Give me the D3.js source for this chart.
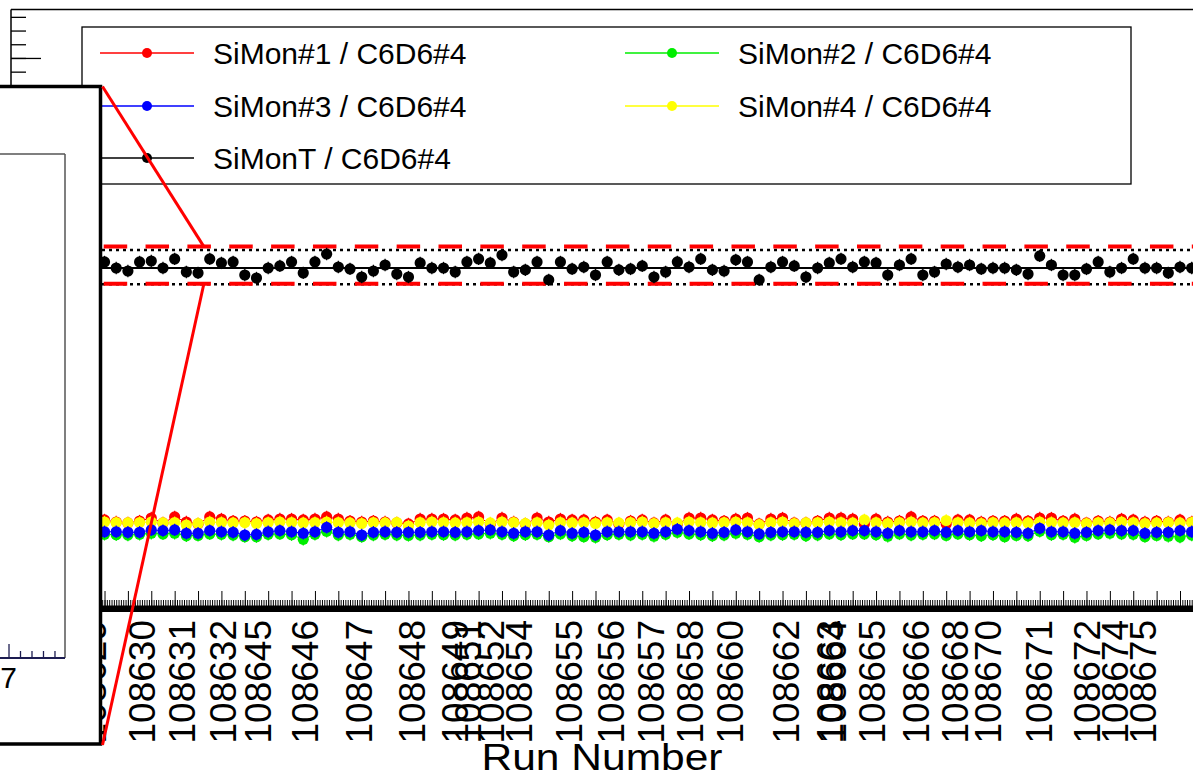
<!DOCTYPE html>
<html><head><meta charset="utf-8">
<script src="https://cdn.jsdelivr.net/npm/d3@7"></script>
<style>
body{margin:0;background:#fff}
svg{display:block}
text{font-family:"Liberation Sans",Arial,Helvetica,sans-serif}
</style>
</head><body>
<svg id="c" width="1193" height="778"></svg>
<script>
// ---------------- data ----------------
const pointIndex = d3.range(102); // bin index along run axis

const siMonT = [2.489,2.453,2.511,2.467,2.423,2.504,2.474,2.526,
 2.511,2.467,2.445,2.511,2.518,2.467,2.533,2.438,2.431,2.533,2.504,2.511,2.416,2.394,2.467,2.482,2.511,2.431,2.511,2.569,2.474,2.460,2.401,2.445,2.489,2.423,2.401,2.504,2.467,2.467,2.438,2.511,2.533,
 2.504,2.562,2.438,2.453,2.511,2.380,2.511,2.460,2.474,2.416,2.511,2.453,2.460,2.482,2.401,2.438,2.511,2.474,2.533,2.453,2.445,2.526,2.511,2.380,2.474,2.511,2.482,2.401,
 2.467,2.504,2.533,2.474,2.511,2.504,2.416,2.489,2.533,2.416,2.438,2.496,2.474,2.489,2.460,2.467,2.467,2.453,2.423,2.555,2.489,2.416,2.416,2.460,2.511,2.438,2.467,2.533,2.467,2.467,2.431,2.474,2.467];

const siMon1 = [0.628,0.620,0.635,0.613,0.628,0.642,0.620,0.628,
 0.628,0.613,0.606,0.620,0.642,0.606,0.650,0.613,0.599,0.650,0.635,0.620,0.620,0.613,0.628,0.635,0.635,0.628,0.635,0.650,0.635,0.620,0.613,0.620,0.613,0.606,0.599,0.635,0.635,0.635,0.628,0.642,0.650,
 0.599,0.642,0.613,0.599,0.642,0.613,0.635,0.628,0.628,0.613,0.628,0.599,0.620,0.628,0.606,0.628,0.599,0.642,0.642,0.628,0.620,0.635,0.642,0.599,0.635,0.642,0.606,0.606,
 0.620,0.642,0.642,0.635,0.599,0.635,0.613,0.620,0.650,0.620,0.620,0.599,0.628,0.628,0.613,0.620,0.620,0.635,0.620,0.642,0.642,0.620,0.635,0.606,0.620,0.613,0.635,0.628,0.613,0.620,0.613,0.628,0.613];

const siMon2 = [0.523,0.518,0.526,0.520,0.512,0.523,0.526,0.518,
 0.523,0.520,0.518,0.523,0.531,0.526,0.531,0.512,0.515,0.526,0.523,0.518,0.506,0.506,0.523,0.526,0.520,0.487,0.523,0.545,0.518,0.523,0.506,0.518,0.523,0.518,0.515,0.518,0.523,0.520,0.518,0.523,0.526,
 0.531,0.523,0.512,0.520,0.523,0.506,0.526,0.512,0.506,0.501,0.520,0.523,0.518,0.523,0.509,0.523,0.538,0.526,0.520,0.512,0.518,0.531,0.523,0.506,0.518,0.520,0.523,0.512,
 0.518,0.526,0.520,0.526,0.526,0.520,0.509,0.526,0.518,0.523,0.526,0.515,0.526,0.520,0.512,0.520,0.506,0.515,0.512,0.545,0.520,0.523,0.501,0.515,0.526,0.531,0.526,0.523,0.506,0.515,0.509,0.503,0.518];

const siMon3 = [0.542,0.550,0.538,0.545,0.531,0.542,0.550,0.538,
 0.542,0.542,0.538,0.538,0.555,0.550,0.555,0.531,0.531,0.550,0.542,0.538,0.518,0.523,0.542,0.550,0.542,0.531,0.542,0.574,0.538,0.542,0.518,0.538,0.542,0.538,0.538,0.538,0.542,0.542,0.538,0.542,0.550,
 0.555,0.542,0.531,0.542,0.542,0.518,0.550,0.531,0.538,0.518,0.542,0.542,0.542,0.542,0.531,0.542,0.560,0.550,0.542,0.531,0.538,0.555,0.542,0.526,0.538,0.542,0.542,0.538,
 0.538,0.550,0.542,0.550,0.550,0.542,0.531,0.550,0.542,0.542,0.550,0.538,0.550,0.542,0.550,0.542,0.542,0.538,0.531,0.567,0.542,0.542,0.531,0.538,0.550,0.555,0.550,0.550,0.531,0.538,0.538,0.550,0.542];

const siMon4 = [0.609,0.606,0.613,0.609,0.602,0.609,0.613,0.606,
 0.613,0.609,0.606,0.609,0.613,0.606,0.609,0.591,0.602,0.613,0.609,0.606,0.609,0.602,0.609,0.613,0.609,0.606,0.609,0.613,0.609,0.606,0.602,0.609,0.606,0.609,0.584,0.609,0.613,0.609,0.606,0.609,0.613,
 0.606,0.613,0.609,0.602,0.609,0.591,0.609,0.606,0.609,0.602,0.609,0.606,0.609,0.613,0.602,0.609,0.606,0.613,0.609,0.606,0.609,0.613,0.609,0.594,0.609,0.613,0.602,0.606,
 0.609,0.613,0.609,0.606,0.628,0.609,0.602,0.609,0.613,0.606,0.609,0.624,0.609,0.606,0.602,0.609,0.606,0.609,0.606,0.613,0.609,0.606,0.609,0.602,0.609,0.606,0.613,0.609,0.602,0.606,0.609,0.606,0.609];

const pointError = 0.045;

const meanT = 2.467;
const bandDotted = [2.599, 2.348];
const bandRed = [2.623, 2.352];

const runLabels = ["108629","108630","108631","108632","108645","108646","108647","108648","108649","108651","108652","108654","108655","108656","108657","108658","108660","108662","108663","108664","108665","108666","108668","108670","108671","108672","108674","108675"];
const runLabelPos = [7.01,11.21,14.63,18.14,21.13,25.15,29.77,34.30,37.98,39.09,41.00,43.45,47.73,51.33,54.75,58.08,61.51,66.30,70.06,70.25,73.65,77.42,80.75,83.58,87.94,92.04,94.44,96.80];

const xTitle = "Run Number";

const legendNames = ["SiMon#1 / C6D6#4","SiMon#2 / C6D6#4","SiMon#3 / C6D6#4","SiMon#4 / C6D6#4","SiMonT / C6D6#4"];
const legendColors = ["#ff0000","#00ee00","#0000ff","#ffff00","#000000"];

const insetTickMajor = [7];
const insetTickMinor = [7.2,7.4,7.6,7.8];
const zoomAt = 16.5;

// ---------------- scales ----------------
const svg = d3.select("#c");
const x = d3.scaleLinear().domain([0,102]).range([11, 11+102*11.69]);
const y = d3.scaleLinear().domain([0,4.35]).range([606,10]);

// frame
svg.append("line").attr("x1",11).attr("x2",1193).attr("y1",9.5).attr("y2",9.5).attr("stroke","#000").attr("stroke-width",1.5);
svg.append("line").attr("x1",11).attr("x2",11).attr("y1",9.5).attr("y2",606).attr("stroke","#000").attr("stroke-width",1.5);

// y ticks
const yMinor = d3.range(0,4.351,0.1).map(v=>+v.toFixed(2));
const yMajor = d3.range(0,4.351,0.5);
const gy1 = svg.append("g").attr("transform","translate(11,0)").call(d3.axisRight(y).tickValues(yMinor).tickSize(15).tickFormat(""));
const gy2 = svg.append("g").attr("transform","translate(11,0)").call(d3.axisRight(y).tickValues(yMajor).tickSize(30).tickFormat(""));
[gy1,gy2].forEach(g=>{g.select(".domain").remove(); g.selectAll("line").attr("stroke","#000").attr("stroke-width",1.3);});

// x ticks
const xMinor = d3.range(0,102.01,0.2);
const xMajor = d3.range(0,103,2);
const gx1 = svg.append("g").attr("transform","translate(0,606)").call(d3.axisTop(x).tickValues(xMinor).tickSize(6).tickFormat(""));
const gx2 = svg.append("g").attr("transform","translate(0,606)").call(d3.axisTop(x).tickValues(xMajor).tickSize(15).tickFormat(""));
[gx1,gx2].forEach(g=>{g.select(".domain").remove(); g.selectAll("line").attr("stroke","#000").attr("stroke-width",1);});
svg.append("rect").attr("x",11).attr("y",605.5).attr("width",1193).attr("height",6.5).attr("fill","#000");

// reference lines
const refs = svg.append("g");
bandDotted.forEach(v=>refs.append("line").attr("x1",x(0)).attr("x2",x(102)).attr("y1",y(v)).attr("y2",y(v))
  .attr("stroke","#000").attr("stroke-width",2.5).attr("stroke-dasharray","3,4"));
refs.append("line").attr("x1",x(0)).attr("x2",x(102)).attr("y1",y(meanT)).attr("y2",y(meanT)).attr("stroke","#000").attr("stroke-width",2);
bandRed.forEach(v=>refs.append("line").attr("x1",x(0)).attr("x2",x(102)).attr("y1",y(v)).attr("y2",y(v))
  .attr("stroke","#ff0000").attr("stroke-width",4).attr("stroke-dasharray","23.5,18.35").attr("stroke-dashoffset",-9));

// series
function drawSeries(vals, color, connect){
  const g = svg.append("g");
  if(connect){
    g.append("path").datum(pointIndex).attr("fill","none").attr("stroke",color).attr("stroke-width",1)
     .attr("d", d3.line().x(i=>x(i)).y(i=>y(vals[i])));
  }
  g.selectAll("line.e").data(pointIndex).join("line").attr("class","e")
   .attr("x1",i=>x(i)).attr("x2",i=>x(i)).attr("y1",i=>y(vals[i]-pointError)).attr("y2",i=>y(vals[i]+pointError))
   .attr("stroke",color).attr("stroke-width",1.2);
  g.selectAll("circle").data(pointIndex).join("circle")
   .attr("cx",i=>x(i)).attr("cy",i=>y(vals[i])).attr("r",5.6).attr("fill",color);
}
drawSeries(siMon1, legendColors[0], true);
drawSeries(siMon4, legendColors[3], true);
drawSeries(siMon2, legendColors[1], true);
drawSeries(siMon3, legendColors[2], true);
drawSeries(siMonT, legendColors[4], false);

// x labels
const gl = svg.append("g").attr("transform","translate(0,620)");
gl.selectAll("text").data(runLabels).join("text")
  .attr("transform",(d,i)=>`translate(${x(runLabelPos[i])},0) rotate(-90)`)
  .attr("dy","0.36em").attr("text-anchor","end").attr("font-size",37).attr("fill","#000").text(d=>d);

svg.append("text").attr("x",602).attr("y",770).attr("text-anchor","middle").attr("font-size",37)
  .attr("textLength",241).attr("lengthAdjust","spacingAndGlyphs").text(xTitle);

// legend
const lg = svg.append("g");
lg.append("rect").attr("x",82).attr("y",27).attr("width",1049).attr("height",157).attr("fill","#fff").attr("stroke","#000").attr("stroke-width",1.3);
const colX = [147, 672], rowY = [53, 106, 158];
const legendCells = [[0,0],[1,0],[0,1],[1,1],[0,2]];
legendNames.forEach((name,i)=>{
  const cx = colX[legendCells[i][0]], cy = rowY[legendCells[i][1]];
  lg.append("line").attr("x1",cx-47).attr("x2",cx+47).attr("y1",cy).attr("y2",cy).attr("stroke",legendColors[i]).attr("stroke-width",1.5);
  lg.append("circle").attr("cx",cx).attr("cy",cy).attr("r",5).attr("fill",legendColors[i]);
  lg.append("text").attr("x",cx+66).attr("y",cy+10.5).attr("font-size",30).attr("fill","#000").text(name);
});

// inset
const ins = svg.append("g");
const insL = -5, insT = 86.5, insR = 100.5, insB = 744;
ins.append("rect").attr("x",insL).attr("y",insT).attr("width",insR-insL).attr("height",insB-insT).attr("fill","#fff").attr("stroke","#000").attr("stroke-width",3.5);
const xi = d3.scaleLinear().domain([6.852,7.983]).range([0,65]);
ins.append("line").attr("x1",-2).attr("x2",65).attr("y1",154).attr("y2",154).attr("stroke","#555").attr("stroke-width",1.5);
ins.append("line").attr("x1",65).attr("x2",65).attr("y1",154).attr("y2",658).attr("stroke","#555").attr("stroke-width",1.5);
ins.append("line").attr("x1",-2).attr("x2",65).attr("y1",658).attr("y2",658).attr("stroke","#1c1c50").attr("stroke-width",2);
const gi1 = ins.append("g").attr("transform","translate(0,658)").call(d3.axisTop(xi).tickValues(insetTickMinor).tickSize(7).tickFormat(""));
const gi2 = ins.append("g").attr("transform","translate(0,658)").call(d3.axisTop(xi).tickValues(insetTickMajor).tickSize(14).tickFormat(""));
[gi1,gi2].forEach(g=>{g.select(".domain").remove(); g.selectAll("line").attr("stroke","#1c1c50").attr("stroke-width",1.3);});
ins.selectAll("text.il").data(insetTickMajor).join("text").attr("class","il")
  .attr("x",d=>xi(d)).attr("y",688).attr("text-anchor","middle").attr("font-size",30).text(d=>d);

// zoom connector lines
const zl = svg.append("g");
zl.append("line").attr("x1",insR+2).attr("y1",insT).attr("x2",x(zoomAt)).attr("y2",y(bandRed[0])).attr("stroke","#ff0000").attr("stroke-width",3);
zl.append("line").attr("x1",x(zoomAt)).attr("y1",y(bandRed[1])).attr("x2",insR+2).attr("y2",insB+1).attr("stroke","#ff0000").attr("stroke-width",3);
</script>
</body></html>
